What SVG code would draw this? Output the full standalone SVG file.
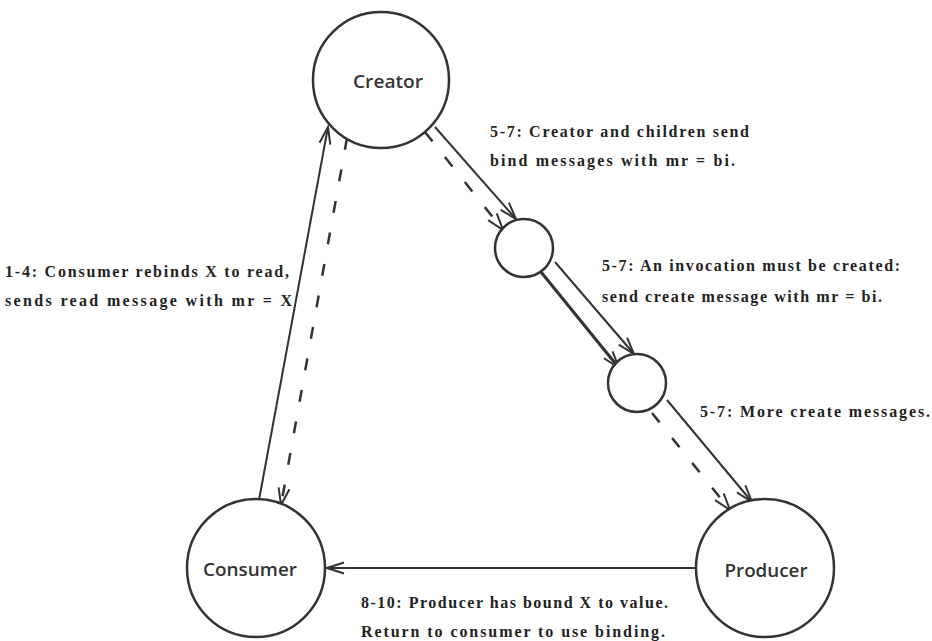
<svg xmlns="http://www.w3.org/2000/svg" width="932" height="641" viewBox="0 0 932 641">
<defs>
<marker id="ah" markerWidth="20" markerHeight="14" refX="18" refY="7" orient="auto" markerUnits="userSpaceOnUse">
<path d="M1,1.5 L18,7 L1,12.5" fill="none" stroke="#333" stroke-width="2"/>
</marker>
</defs>
<style>
.node{fill:#fff;stroke:#333;stroke-width:2.5}
.nl{font-family:"Open Sans","Noto Sans",sans-serif;font-weight:600;font-size:18px;fill:#333;text-anchor:middle}
.ln{fill:none;stroke:#333;stroke-width:2}
.thick{stroke-width:3}
.dash{stroke-dasharray:12 20;stroke-width:2.5}
.lab{font-family:"Liberation Serif","DejaVu Serif",serif;font-weight:bold;font-size:16px;fill:#222}
</style>
<rect width="932" height="641" fill="#fff"/>
<g id="connectors">
<path class="ln" d="M259,500 L328,127" marker-end="url(#ah)"/>
<path class="ln dash" d="M347,138 L281,505" marker-end="url(#ah)"/>
<path class="ln" d="M435,127 L516,219" marker-end="url(#ah)"/>
<path class="ln dash" d="M425,132 L503,230" marker-end="url(#ah)"/>
<path class="ln thick" d="M541,272 L619,368" marker-end="url(#ah)"/>
<path class="ln" d="M555,262 L634,354" marker-end="url(#ah)"/>
<path class="ln" d="M667,400 L752,502" marker-end="url(#ah)"/>
<path class="ln dash" d="M652,413 L730,510" marker-end="url(#ah)"/>
<path class="ln" d="M696,568 L327,568" marker-end="url(#ah)"/>
</g>
<g id="creator">
<circle class="node" cx="381" cy="80" r="68"/>
<text class="nl" x="388" y="88" textLength="70" lengthAdjust="spacingAndGlyphs">Creator</text>
</g>
<g id="consumer">
<circle class="node" cx="256" cy="568" r="69"/>
<text class="nl" x="250" y="576" textLength="94" lengthAdjust="spacingAndGlyphs">Consumer</text>
</g>
<g id="producer">
<circle class="node" cx="765" cy="568" r="69"/>
<text class="nl" x="766" y="577" textLength="83" lengthAdjust="spacingAndGlyphs">Producer</text>
</g>
<g id="invocation1">
<circle class="node" cx="524" cy="248" r="29"/>
</g>
<g id="invocation2">
<circle class="node" cx="637" cy="383" r="29"/>
</g>
<g id="labels">
<text class="lab" x="490" y="137" textLength="259" lengthAdjust="spacing">5-7: Creator and children send</text>
<text class="lab" x="490" y="166" textLength="245" lengthAdjust="spacing">bind messages with mr = bi.</text>
<text class="lab" x="602" y="271" textLength="298" lengthAdjust="spacing">5-7: An invocation must be created:</text>
<text class="lab" x="602" y="302" textLength="280" lengthAdjust="spacing">send create message with mr = bi.</text>
<text class="lab" x="5" y="277" textLength="284" lengthAdjust="spacing">1-4: Consumer rebinds X to read,</text>
<text class="lab" x="5" y="306" textLength="287" lengthAdjust="spacing">sends read message with mr = X</text>
<text class="lab" x="700" y="417" textLength="230" lengthAdjust="spacing">5-7: More create messages.</text>
<text class="lab" x="361" y="608" textLength="307" lengthAdjust="spacing">8-10: Producer has bound X to value.</text>
<text class="lab" x="361" y="637" textLength="304" lengthAdjust="spacing">Return to consumer to use binding.</text>
</g>
</svg>
